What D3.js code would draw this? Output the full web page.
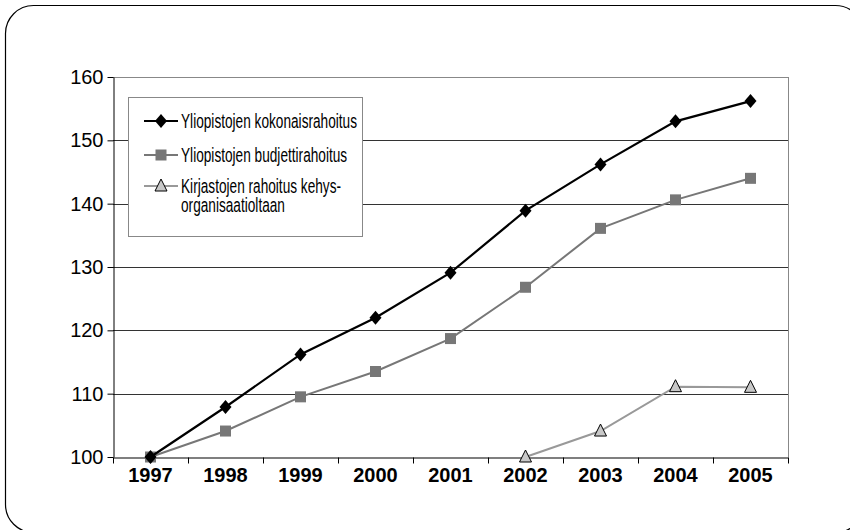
<!DOCTYPE html>
<html><head><meta charset="utf-8">
<script src="https://cdn.jsdelivr.net/npm/d3@7"></script>
<style>body{margin:0;background:#fff}</style>
</head><body>
<svg id="c" width="850" height="530"></svg>
<script>
const years = ["1997","1998","1999","2000","2001","2002","2003","2004","2005"];
const kokonais = [100, 107.9, 116.2, 122, 129.1, 138.9, 146.2, 153, 156.2];
const budjetti = [100, 104.1, 109.5, 113.5, 118.7, 126.8, 136.1, 140.6, 144];
const kirjasto = [null, null, null, null, null, 100, 104.1, 111.1, 111];
const yTicks = [100, 110, 120, 130, 140, 150, 160];
const seriesNames = ["Yliopistojen kokonaisrahoitus", "Yliopistojen budjettirahoitus", ["Kirjastojen rahoitus kehys-", "organisaatioltaan"]];

const font = "'Liberation Sans', Arial, sans-serif";
const svg = d3.select("#c");
svg.append("rect").attr("x",5.5).attr("y",5.5).attr("width",858).attr("height",527).attr("rx",28)
  .attr("fill","#fff").attr("stroke","#000").attr("stroke-width",1.2);

const L=113, R=788, T=77, B=457;
const x = d3.scaleBand().domain(years).range([L,R]);
const y = d3.scaleLinear().domain([100,160]).range([B,T]);

// gridlines
svg.append("g").selectAll("line").data(yTicks.filter(v=>v>100)).join("line")
  .attr("x1",L).attr("x2",R).attr("y1",d=>Math.round(y(d))+0.5).attr("y2",d=>Math.round(y(d))+0.5)
  .attr("stroke",d=>d===160?"#888":"#333").attr("stroke-width",1);
// right border
svg.append("line").attr("x1",R+0.5).attr("x2",R+0.5).attr("y1",T).attr("y2",B).attr("stroke","#888");

// y axis
const ya = svg.append("g").attr("transform",`translate(${L+0.5},0)`)
  .call(d3.axisLeft(y).tickValues(yTicks).tickSize(6).tickPadding(4).tickSizeOuter(0));
ya.select(".domain").attr("stroke","#000");
ya.selectAll(".tick line").attr("stroke","#000");
ya.selectAll("text").attr("font-family",font).attr("font-size",20).attr("fill","#000");

// x axis
const xa = svg.append("g").attr("transform",`translate(0,${B+0.5})`)
  .call(d3.axisBottom(x).tickSize(0).tickPadding(10));
xa.select(".domain").attr("stroke","#000").attr("stroke-width",1.2);
xa.selectAll("text").attr("font-family",font).attr("font-size",20).attr("font-weight","bold").attr("fill","#000");
xa.selectAll("line.sep").data(years.map(d=>x(d)).concat([R])).join("line").attr("class","sep")
  .attr("x1",d=>Math.round(d)+0.5).attr("x2",d=>Math.round(d)+0.5).attr("y1",0).attr("y2",6).attr("stroke","#000");

const cx = i => x(years[i]) + x.bandwidth()/2;
const lineFor = arr => d3.line().defined(d=>d.v!=null).x(d=>cx(d.i)).y(d=>y(d.v))(arr.map((v,i)=>({v,i})));

const styles = [
  {data:kokonais, color:"#000", w:2.2, marker:"diamond"},
  {data:budjetti, color:"#777", w:2, marker:"square"},
  {data:kirjasto, color:"#999", w:2, marker:"triangle"}
];
function marker(g, type, px, py){
  if(type==="diamond"){
    g.append("path").attr("d",`M${px},${py-7}L${px+6},${py}L${px},${py+7}L${px-6},${py}Z`).attr("fill","#000");
  } else if(type==="square"){
    g.append("rect").attr("x",px-5.5).attr("y",py-5.5).attr("width",11).attr("height",11).attr("fill","#777");
  } else {
    g.append("path").attr("d",`M${px},${py-7}L${px+6},${py+5}L${px-6},${py+5}Z`).attr("fill","#c8c8c8").attr("stroke","#000").attr("stroke-width",1);
  }
}
styles.slice().reverse().forEach(s=>{
  svg.append("path").attr("d",lineFor(s.data)).attr("fill","none").attr("stroke",s.color).attr("stroke-width",s.w);
  const g = svg.append("g");
  s.data.forEach((v,i)=>{ if(v!=null) marker(g,s.marker,cx(i),y(v)); });
});

// legend
const lg = svg.append("g");
lg.append("rect").attr("x",128.5).attr("y",97.5).attr("width",234).attr("height",139).attr("fill","#fff").attr("stroke","#888");
const rowsY = [121, 155, 186];
styles.forEach((s,k)=>{
  lg.append("line").attr("x1",144).attr("x2",178).attr("y1",rowsY[k]).attr("y2",rowsY[k]).attr("stroke",s.color).attr("stroke-width",s.w);
  marker(lg,s.marker,161,rowsY[k]);
  const names = Array.isArray(seriesNames[k])?seriesNames[k]:[seriesNames[k]];
  const t = lg.append("text").attr("transform",`translate(181,${rowsY[k]+7}) scale(0.7,1)`)
    .attr("font-family",font).attr("font-size",19.5).attr("fill","#000");
  names.forEach((n,j)=>{
    t.append("tspan").attr("x",0).attr("y",j*19).text(n);
  });
});
</script>
</body></html>
